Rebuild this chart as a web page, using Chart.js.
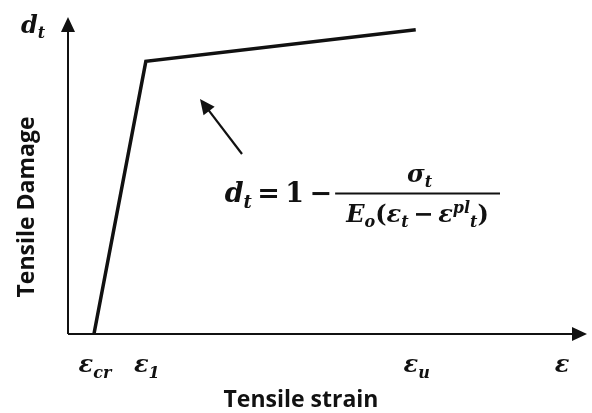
<!DOCTYPE html>
<html>
<head>
<meta charset="utf-8">
<script src="https://cdn.jsdelivr.net/npm/chart.js@4"></script>
<style>
  html, body { margin: 0; padding: 0; background: #fff; }
  #wrap { width: 592px; height: 413px; position: relative; }
</style>
</head>
<body>
<div id="wrap"><canvas id="damageChart"></canvas></div>
<script>
// strain points (arbitrary units on a 0-100 axis) and tensile damage
const strainPoints = [5, 15, 67];
const damageValues = [0, 86, 96];

// x tick labels: base glyph + subscript
const tickValues = [5, 15, 67, 95];
const tickLabels = [['ε', 'cr'], ['ε', '1'], ['ε', 'u'], ['ε', '']];

const xTitle = 'Tensile strain';
const yTitle = 'Tensile Damage';

const mathFont = (size) => 'italic bold ' + size + 'px "DejaVu Serif", "Liberation Serif", serif';
const uprightFont = (size) => 'bold ' + size + 'px "DejaVu Serif", "Liberation Serif", serif';
const thin = '\u2009';

// draw runs of text, each run: [text, font, dy]
function drawRuns(ctx, runs, x, y, align) {
  let total = 0;
  runs.forEach(r => { ctx.font = r[1]; total += ctx.measureText(r[0]).width; });
  let cx = align === 'center' ? x - total / 2 : x;
  runs.forEach(r => {
    ctx.font = r[1];
    ctx.fillText(r[0], cx, y + (r[2] || 0));
    cx += ctx.measureText(r[0]).width;
  });
  return total;
}

function arrowHead(ctx, x, y, angle, len, half) {
  ctx.save();
  ctx.translate(x, y);
  ctx.rotate(angle);
  ctx.beginPath();
  ctx.moveTo(0, 0);
  ctx.lineTo(-len, -half);
  ctx.lineTo(-len, half);
  ctx.closePath();
  ctx.fill();
  ctx.restore();
}

const axesPlugin = {
  id: 'axesPlugin',
  afterDraw(chart) {
    const ctx = chart.ctx;
    const xs = chart.scales.x, ys = chart.scales.y;
    const x0 = xs.getPixelForValue(0), y0 = ys.getPixelForValue(0);
    const xEnd = xs.getPixelForValue(100), yEnd = ys.getPixelForValue(100);
    ctx.save();
    ctx.fillStyle = '#111';
    ctx.strokeStyle = '#111';
    ctx.textBaseline = 'alphabetic';

    // axes
    ctx.lineWidth = 2;
    ctx.beginPath();
    ctx.moveTo(x0, y0);
    ctx.lineTo(x0, yEnd + 12);
    ctx.moveTo(x0, y0);
    ctx.lineTo(xEnd - 12, y0);
    ctx.stroke();
    arrowHead(ctx, x0, yEnd, -Math.PI / 2, 15, 7);
    arrowHead(ctx, xEnd, y0, 0, 15, 7);

    // x tick labels
    tickValues.forEach((v, i) => {
      const px = xs.getPixelForValue(v);
      const lab = tickLabels[i];
      drawRuns(ctx, [[lab[0], mathFont(24), 0], [lab[1], mathFont(16), 6]], px + 1, y0 + 38, 'center');
    });

    // y label d_t
    drawRuns(ctx, [['d', mathFont(24), 0], ['t', mathFont(16), 5]], 21, 33, 'left');

    // axis titles
    ctx.font = 'bold 23px "Open Sans", "Liberation Sans", sans-serif';
    ctx.textAlign = 'center';
    ctx.fillText(xTitle, 301, 407);
    ctx.save();
    ctx.translate(34, 207);
    ctx.rotate(-Math.PI / 2);
    ctx.fillText(yTitle, 0, 0);
    ctx.restore();
    ctx.textAlign = 'left';

    // formula
    const fx = xs.getPixelForValue(30.2), fy = ys.getPixelForValue(41.5);
    let w = drawRuns(ctx, [['d', mathFont(27), 0], ['t', mathFont(18), 6],
      [thin + '=' + thin + '1' + thin + '−', uprightFont(27), 0]], fx, fy, 'left');
    const barL = fx + w + 3, barR = 500;
    ctx.lineWidth = 2;
    ctx.beginPath();
    ctx.moveTo(barL, fy - 9);
    ctx.lineTo(barR, fy - 9);
    ctx.stroke();
    const mid = (barL + barR) / 2;
    drawRuns(ctx, [['σ', mathFont(24), 0], ['t', mathFont(16), 5]], mid + 2, fy - 20, 'center');
    drawRuns(ctx, [
      ['E', mathFont(24), 0], ['o', mathFont(16), 5], ['(', uprightFont(24), 0],
      ['ε', mathFont(24), 0], ['t', mathFont(16), 5], [thin + '−' + thin, uprightFont(24), 0],
      ['ε', mathFont(24), 0], ['pl', mathFont(16), -9], ['t', mathFont(16), 5], [')', uprightFont(24), 0]
    ], mid, fy + 20, 'center');

    // pointer arrow
    const ax1 = 242, ay1 = 154, ax2 = 200, ay2 = 99;
    const ang = Math.atan2(ay2 - ay1, ax2 - ax1);
    ctx.lineWidth = 2.2;
    ctx.beginPath();
    ctx.moveTo(ax1, ay1);
    ctx.lineTo(ax2 - 10 * Math.cos(ang), ay2 - 10 * Math.sin(ang));
    ctx.stroke();
    arrowHead(ctx, ax2, ay2, ang, 15, 7);

    ctx.restore();
  }
};

new Chart(document.getElementById('damageChart'), {
  type: 'scatter',
  data: {
    datasets: [{
      data: strainPoints.map((s, i) => ({ x: s, y: damageValues[i] })),
      showLine: true,
      borderColor: '#111',
      borderWidth: 3.5,
      pointRadius: 0,
      tension: 0
    }]
  },
  options: {
    responsive: true,
    maintainAspectRatio: false,
    animation: false,
    layout: { padding: { left: 68, right: 5, top: 17, bottom: 79 } },
    plugins: { legend: { display: false }, tooltip: { enabled: false } },
    scales: {
      x: { type: 'linear', min: 0, max: 100, display: false },
      y: { type: 'linear', min: 0, max: 100, display: false }
    }
  },
  plugins: [axesPlugin]
});
</script>
</body>
</html>
